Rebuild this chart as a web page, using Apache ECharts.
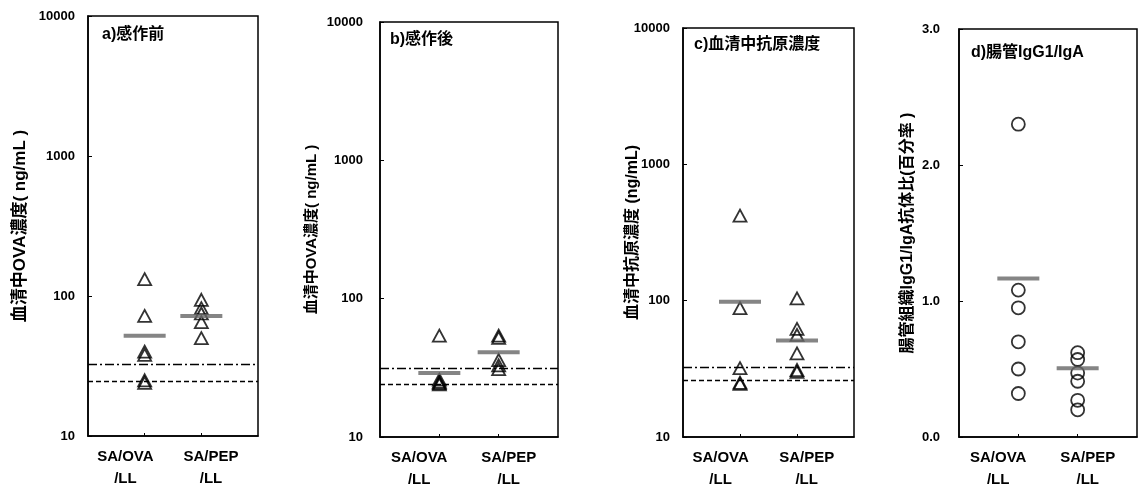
<!DOCTYPE html>
<html>
<head>
<meta charset="utf-8">
<script src="https://cdn.jsdelivr.net/npm/echarts@6/dist/echarts.min.js"></script>
<style>html,body{margin:0;padding:0;background:#fff}#c{width:1139px;height:491px}</style>
</head>
<body>
<div id="c"></div>
<script>
// ---- data ----
const categories = ['SA/OVA\n/LL', 'SA/PEP\n/LL'];
const titles = ['a)感作前', 'b)感作後', 'c)血清中抗原濃度', 'd)腸管IgG1/IgA'];
const yNames = ['血清中OVA濃度( ng/mL )', '血清中OVA濃度( ng/mL )', '血清中抗原濃度 (ng/mL)', '腸管組織IgG1/IgA抗体比(百分率 )'];
const logTicks = [10, 100, 1000, 10000];
const ratioTicks = [0, 1, 2, 3];

// a) before sensitization
const aOVA = [132, 72, 40, 38, 25, 24];
const aPEP = [94, 82, 75, 65, 50];
const aMean = [52, 72];
const aLimits = [32.5, 24.5];   // dash-dot, dashed

// b) after sensitization
const bOVA = [54, 26, 25, 24.5, 24];
const bPEP = [54, 52, 36, 33, 31];
const bMean = [29, 41];
const bLimits = [31.2, 24.2];

// c) serum antigen concentration
const cOVA = [420, 88, 32, 25, 24.5];
const cPEP = [104, 62, 56, 41, 31, 30];
const cMean = [98, 51];
const cLimits = [32.4, 26];

// d) intestinal IgG1/IgA ratio
const dOVA = [2.30, 1.08, 0.95, 0.70, 0.50, 0.32];
const dPEP = [0.62, 0.57, 0.47, 0.41, 0.27, 0.20];
const dMean = [1.165, 0.505];

// ---- chart ----
const FONT = '"Liberation Sans", "Noto Sans CJK JP", sans-serif';
const LABEL_AT = [0.66, 2.17];  // where the category texts sit on the 0..3 axis
const panels = [
  {ova: aOVA, pep: aPEP, mean: aMean, lim: aLimits, log: true, sym: 'triangle',
   grid: {left: 88, top: 16, width: 170, height: 420}, lblMargin: 13, nameGap: 59, nameFs: 17,
   tpos: {left: 102, top: 27}},
  {ova: bOVA, pep: bPEP, mean: bMean, lim: bLimits, log: true, sym: 'triangle',
   grid: {left: 380, top: 22, width: 178, height: 418}, lblMargin: 17, nameGap: 61, nameFs: 15,
   tpos: {left: 390, top: 32}},
  {ova: cOVA, pep: cPEP, mean: cMean, lim: cLimits, log: true, sym: 'triangle',
   grid: {left: 683, top: 28, width: 171, height: 417}, lblMargin: 13, nameGap: 42, nameFs: 16,
   tpos: {left: 694, top: 37}},
  {ova: dOVA, pep: dPEP, mean: dMean, lim: [], log: false, sym: 'circle',
   grid: {left: 959, top: 29, width: 178, height: 412}, lblMargin: 19, nameGap: 43, nameFs: 16,
   tpos: {left: 971, top: 45}}
];

const option = {animation: false, backgroundColor: '#fff', grid: [], xAxis: [], yAxis: [], series: [], title: []};
panels.forEach((p, i) => {
  option.grid.push(Object.assign({show: true, borderColor: '#000', borderWidth: 1.5, backgroundColor: 'transparent'}, p.grid));
  option.title.push({text: titles[i], left: p.tpos.left, top: p.tpos.top, padding: 0,
    textStyle: {fontFamily: FONT, fontSize: 16, fontWeight: 'bold', color: '#000'}});
  option.xAxis.push({type: 'value', gridIndex: i, min: 0, max: 3, interval: 1,
    axisLine: {show: true, lineStyle: {color: '#000', width: 1.5}},
    axisTick: {show: true, inside: true, length: 3, customValues: [1, 2], lineStyle: {color: '#000'}},
    splitLine: {show: false},
    axisLabel: {margin: 10, color: '#000', fontFamily: FONT, fontSize: 15, fontWeight: 'bold', lineHeight: 22,
      customValues: LABEL_AT,
      formatter: v => categories[v < 1.5 ? 0 : 1]}});
  const yBase = {gridIndex: i, name: yNames[i], nameLocation: 'middle', nameRotate: 90, nameGap: p.nameGap,
    nameMoveOverlap: false,
    nameTextStyle: {fontFamily: FONT, fontSize: p.nameFs, fontWeight: 'bold', color: '#000'},
    axisLine: {show: true, lineStyle: {color: '#000', width: 1.5}},
    axisTick: {show: true, inside: true, length: 4, lineStyle: {color: '#000'}},
    splitLine: {show: false},
    axisLabel: {margin: p.lblMargin, color: '#000', fontFamily: FONT, fontSize: 13, fontWeight: 'bold'}};
  if (p.log) {
    yBase.axisLabel.formatter = v => String(Math.round(v));
    option.yAxis.push(Object.assign(yBase, {type: 'log', logBase: 10, min: logTicks[0], max: logTicks[logTicks.length - 1]}));
  } else {
    yBase.axisLabel.formatter = v => v.toFixed(1);
    option.yAxis.push(Object.assign(yBase, {type: 'value', min: ratioTicks[0], max: ratioTicks[ratioTicks.length - 1], interval: 1}));
  }
  const marker = {type: 'scatter', xAxisIndex: i, yAxisIndex: i, symbol: p.sym,
    symbolSize: p.sym === 'triangle' ? [13, 12] : 13, silent: true, z: 3,
    itemStyle: {color: 'rgba(255,255,255,0)', borderColor: '#000', borderWidth: 1.8}};
  option.series.push(Object.assign({}, marker, {data: p.ova.map(v => [1, v])}));
  option.series.push(Object.assign({}, marker, {data: p.pep.map(v => [2, v])}));
  option.series.push({type: 'scatter', xAxisIndex: i, yAxisIndex: i, symbol: 'rect', symbolSize: [42, 4], silent: true, z: 4,
    itemStyle: {color: '#666'}, data: p.mean.map((v, k) => [k + 1, v]),
    markLine: p.lim.length ? {silent: true, symbol: 'none', label: {show: false},
      data: [
        {yAxis: p.lim[0], lineStyle: {color: '#000', width: 1.3, type: [9, 3, 2, 3]}},
        {yAxis: p.lim[1], lineStyle: {color: '#000', width: 1.3, type: [5, 3]}}
      ]} : undefined});
});

const chart = echarts.init(document.getElementById('c'), null, {renderer: 'canvas'});
chart.setOption(option);
</script>
</body>
</html>
